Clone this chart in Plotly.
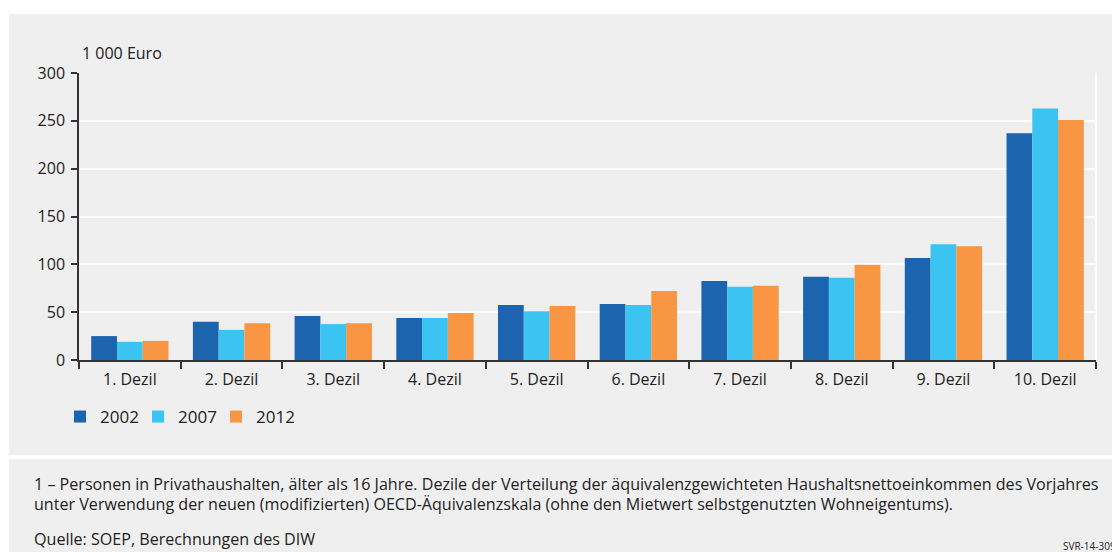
import plotly.graph_objects as go

categories = ["1. Dezil", "2. Dezil", "3. Dezil", "4. Dezil", "5. Dezil",
              "6. Dezil", "7. Dezil", "8. Dezil", "9. Dezil", "10. Dezil"]
v2002 = [25, 40, 46, 44, 57.5, 58.5, 82.5, 87, 106.5, 237]
v2007 = [19, 31.5, 37.5, 44, 51, 57.5, 76.5, 86, 121, 263]
v2012 = [20, 38.5, 38.5, 49, 56.5, 72, 77.5, 99.5, 119, 251]
series_names = ["2002", "2007", "2012"]
colors = ["#1c64ad", "#3bc4f1", "#f89644"]
y_ticks = [0, 50, 100, 150, 200, 250, 300]

footer1 = ("1 – Personen in Privathaushalten, älter als 16 Jahre. Dezile der Verteilung der "
           "äquivalenzgewichteten Haushaltsnettoeinkommen des Vorjahres")
footer2 = ("unter Verwendung der neuen (modifizierten) OECD-Äquivalenzskala (ohne den Mietwert "
           "selbstgenutzten Wohneigentums).")
source = "Quelle: SOEP, Berechnungen des DIW"
code = "SVR-14-309"

# page has an 8px body margin: design in screen pixels, convert to figure space
OFF = 8
W, H = 1120 - OFF, 552 - OFF
PLOT_X0, PLOT_X1 = 79, 1096   # screen px
PLOT_Y0, PLOT_Y1 = 73, 360    # screen px
L = PLOT_X0 - OFF
R = W - (PLOT_X1 - OFF)
T = PLOT_Y0 - OFF
B = H - (PLOT_Y1 - OFF)
PW = W - L - R
PH = H - T - B


def px(x):
    return (x - PLOT_X0) / PW


def py(y):
    return (PLOT_Y1 - y) / PH


FONT = "Open Sans"
TXT = "#222222"
BG = "#efefef"

fig = go.Figure()
for name, vals, c in zip(series_names, [v2002, v2007, v2012], colors):
    fig.add_trace(go.Bar(x=categories, y=vals, name=name, marker_color=c,
                         marker_line_width=0))

shapes = [
    # white top strip, left strip and separator over a grey paper
    dict(type="rect", xref="paper", yref="paper", x0=px(0), x1=px(1140),
         y0=py(14), y1=py(0), fillcolor="white", line_width=0, layer="below"),
    dict(type="rect", xref="paper", yref="paper", x0=px(0), x1=px(9),
         y0=py(570), y1=py(0), fillcolor="white", line_width=0, layer="below"),
    dict(type="rect", xref="paper", yref="paper", x0=px(0), x1=px(1140),
         y0=py(459), y1=py(455), fillcolor="white", line_width=0, layer="below"),
    dict(type="line", xref="paper", yref="paper", x0=1, x1=1, y0=0, y1=1,
         line=dict(color="white", width=2)),
]

annotations = [
    dict(text="1 000 Euro", xref="paper", yref="paper", x=px(80), y=py(53),
         xanchor="left", yanchor="middle", showarrow=False,
         font=dict(size=16, color=TXT, family=FONT)),
    dict(text=footer1, xref="paper", yref="paper", x=px(32), y=py(484),
         xanchor="left", yanchor="middle", showarrow=False,
         font=dict(size=16.1, color=TXT, family=FONT)),
    dict(text=footer2, xref="paper", yref="paper", x=px(32), y=py(504),
         xanchor="left", yanchor="middle", showarrow=False,
         font=dict(size=16.1, color=TXT, family=FONT)),
    dict(text=source, xref="paper", yref="paper", x=px(32), y=py(539),
         xanchor="left", yanchor="middle", showarrow=False,
         font=dict(size=16.1, color=TXT, family=FONT)),
    dict(text=code, xref="paper", yref="paper", x=px(1061), y=py(546),
         xanchor="left", yanchor="middle", showarrow=False,
         font=dict(size=10, color=TXT, family=FONT)),
]

fig.update_layout(
    width=W, height=H,
    margin=dict(l=L, r=R, t=T, b=B),
    paper_bgcolor=BG,
    plot_bgcolor=BG,
    barmode="group",
    bargap=0.24,
    bargroupgap=0,
    font=dict(family=FONT, size=16, color=TXT),
    showlegend=True,
    legend=dict(orientation="h", x=px(60), y=py(417), xanchor="left",
                yanchor="middle", bgcolor="rgba(0,0,0,0)",
                font=dict(size=17, color=TXT, family=FONT),
                entrywidth=33, entrywidthmode="pixels", tracegroupgap=0),
    shapes=shapes,
    annotations=annotations,
)
fig.update_xaxes(showline=True, linecolor="#333333", linewidth=1.5,
                 ticks="outside", tickson="boundaries", ticklen=7,
                 tickcolor="#333333", tickwidth=1.5, ticklabelstandoff=4,
                 showgrid=False, tickfont=dict(size=16, color=TXT))
fig.update_yaxes(range=[0, 300], tickvals=y_ticks, showline=True,
                 linecolor="#333333", linewidth=1.5, ticks="outside",
                 ticklen=6, tickcolor="#333333", tickwidth=1.5,
                 ticklabelstandoff=3,
                 showgrid=True, gridcolor="white", gridwidth=2,
                 zeroline=False, tickfont=dict(size=16, color=TXT))

fig.write_html("out.html",
               post_script="document.documentElement.style.overflow='hidden';"
                           "document.body.style.overflow='hidden';")
